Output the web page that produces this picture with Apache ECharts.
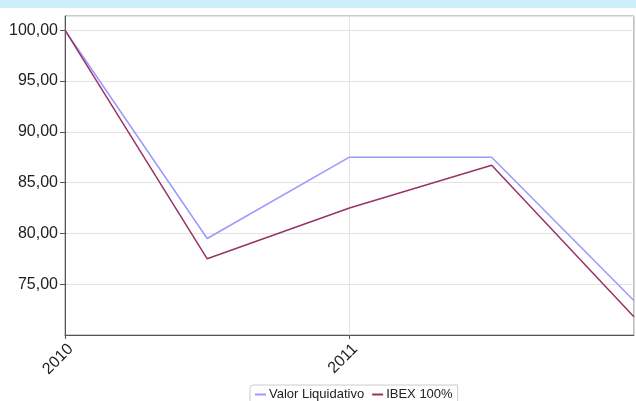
<!DOCTYPE html>
<html>
<head>
<meta charset="utf-8">
<script src="https://cdn.jsdelivr.net/npm/echarts@6/dist/echarts.min.js"></script>
<style>
  html, body { margin: 0; padding: 0; background: #fff; overflow: hidden; }
  #chart { width: 636px; height: 401px; }
</style>
</head>
<body>
<div id="chart"></div>
<script>
// periodos semestrales
var fechas = ["2010-01", "2010-07", "2011-01", "2011-07", "2012-01"];
var valorLiquidativo = [100, 79.5, 87.5, 87.5, 73.4];
var ibex = [100, 77.5, 82.5, 86.7, 71.8];
var yTicks = { min: 70, max: 101.4, interval: 5 };

// solo enero marca el año (el ultimo queda fuera del recorte)
var esEnero = function (i) {
  return i < fechas.length - 1 && fechas[i].slice(5) === "01";
};

var chart = echarts.init(document.getElementById("chart"));
chart.setOption({
  animation: false,
  textStyle: { fontFamily: "Liberation Sans, Arial, sans-serif" },
  graphic: [
    {
      type: "rect",
      shape: { x: 0, y: 0, width: 636, height: 8 },
      style: { fill: "#cdeefb" }
    }
  ],
  grid: {
    left: 65,
    top: 16,
    right: -3,
    bottom: 66,
    show: true,
    borderColor: "#999",
    borderWidth: 1
  },
  legend: {
    left: 250,
    top: 385,
    itemWidth: 11,
    itemHeight: 2,
    itemGap: 8,
    icon: "rect",
    padding: [3, 5],
    borderColor: "#ccc",
    borderWidth: 1,
    borderRadius: [3, 0, 0, 0],
    textStyle: { fontSize: 13, color: "#222", padding: [0, 0, 0, -2] },
    data: ["Valor Liquidativo", "IBEX 100%"]
  },
  xAxis: {
    type: "category",
    boundaryGap: false,
    data: fechas,
    axisLine: { onZero: false, lineStyle: { color: "#555" } },
    axisTick: { show: true, length: 4, interval: esEnero, lineStyle: { color: "#555" } },
    splitLine: { show: true, interval: esEnero, lineStyle: { color: "#e3e3e3" } },
    axisLabel: {
      interval: 0,
      rotate: 45,
      margin: 6,
      fontSize: 16,
      color: "#222",
      verticalAlign: "top",
      formatter: function (v, i) {
        return esEnero(i) ? v.slice(0, 4) : "";
      }
    }
  },
  yAxis: {
    type: "value",
    min: yTicks.min,
    max: yTicks.max,
    interval: yTicks.interval,
    axisLine: { show: true, onZero: false, lineStyle: { color: "#555" } },
    axisTick: { show: true, length: 5, lineStyle: { color: "#555" } },
    splitLine: { lineStyle: { color: "#e3e3e3" } },
    axisLabel: {
      showMinLabel: false,
      showMaxLabel: false,
      margin: 7,
      fontSize: 16,
      color: "#222",
      formatter: function (v) {
        return v.toFixed(2).replace(".", ",");
      }
    }
  },
  series: [
    {
      name: "Valor Liquidativo",
      type: "line",
      data: valorLiquidativo,
      symbol: "none",
      itemStyle: { color: "#9999ff" },
      lineStyle: { color: "#9999ff", width: 1.5 }
    },
    {
      name: "IBEX 100%",
      type: "line",
      data: ibex,
      symbol: "none",
      itemStyle: { color: "#993366" },
      lineStyle: { color: "#993366", width: 1.5 }
    }
  ]
});
</script>
</body>
</html>
